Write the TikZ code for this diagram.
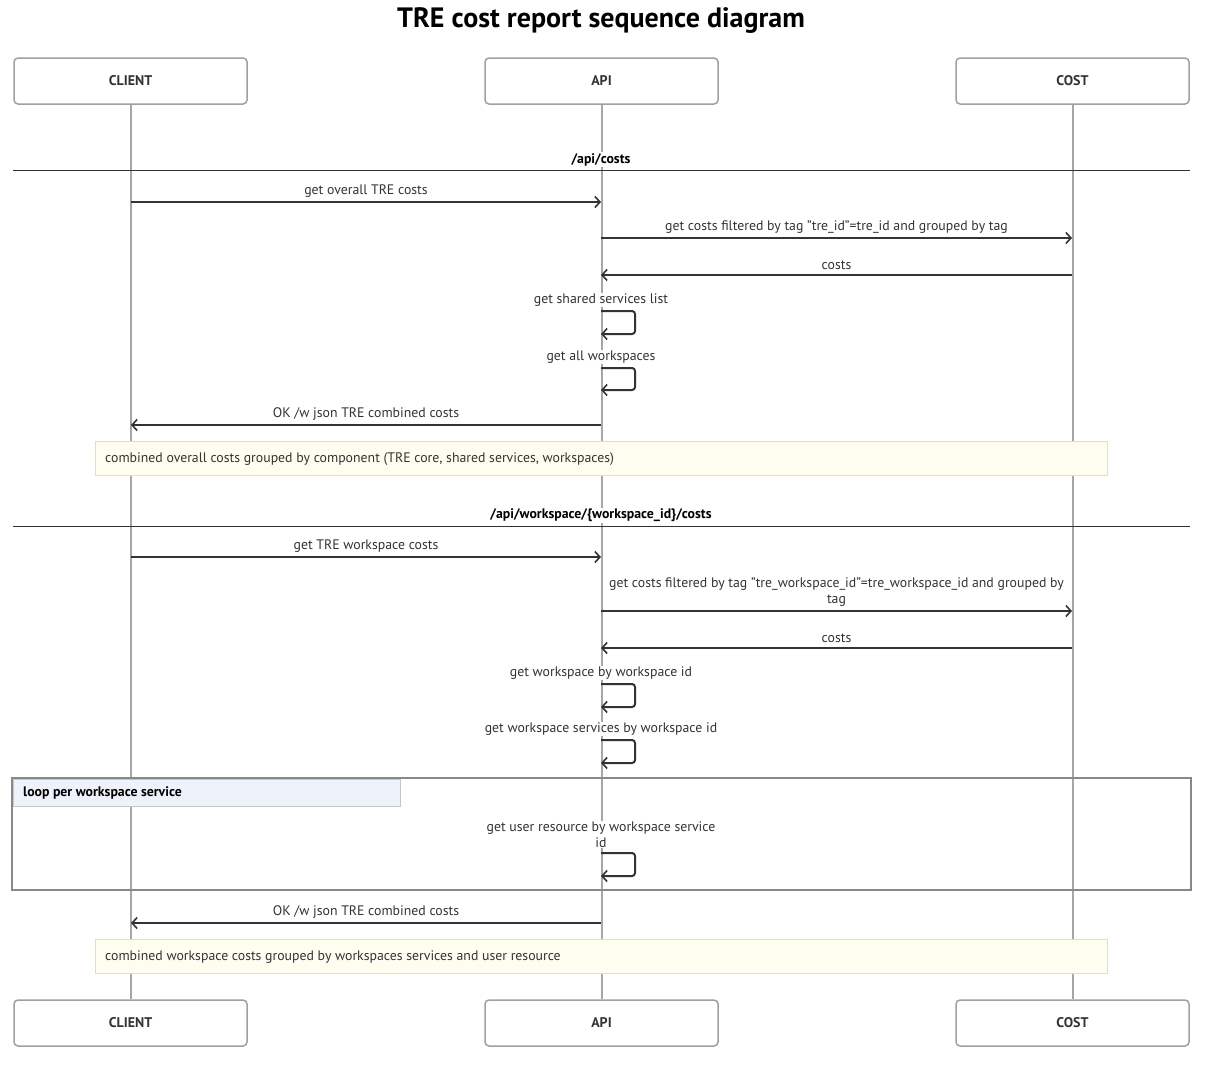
\documentclass[tikz,border=0pt]{standalone}
\usepackage{fontspec}
\setmainfont{PT Sans}
\usetikzlibrary{arrows.meta}
\definecolor{txt}{HTML}{333333}
\definecolor{life}{HTML}{A6A6A6}
\definecolor{boxline}{HTML}{A0A0A0}
\definecolor{notefill}{HTML}{FFFDF0}
\definecolor{noteline}{HTML}{E2DFC8}
\definecolor{loopfill}{HTML}{EEF2FB}
\definecolor{loopline}{HTML}{888888}
\newcommand{\fs}{\fontsize{13.8}{16}\selectfont}
\newcommand{\qq}{\char34\relax}
\tikzset{
  actor/.style={draw=boxline, line width=1.5pt, rounded corners=4pt, minimum width=233pt, minimum height=46pt, fill=white, font=\bfseries\fontsize{14}{16}\selectfont, text=txt, inner sep=0pt},
  lifeline/.style={draw=life, line width=2pt},
  msg/.style={draw=txt, line width=2pt, -{Straight Barb[length=5pt,width=11pt,line width=1.6pt]}},
  selfmsg/.style={msg, rounded corners=3pt},
  lbl/.style={font=\fs, text=txt, inner sep=1pt, align=center},
  selflbl/.style={lbl, fill=white},
  seclbl/.style={font=\bfseries\fs, text=black, fill=white, inner sep=1pt},
  secline/.style={draw=txt, line width=1pt},
  note/.style={draw=noteline, fill=notefill, line width=1pt},
  notetxt/.style={font=\fs, text=txt, anchor=west, inner sep=0pt},
}
\begin{document}
\begin{tikzpicture}[x=1pt,y=-1pt]
\useasboundingbox (0,0) rectangle (1205,1074);
\node[font=\bfseries\fontsize{28}{32}\selectfont] (title) at (601,21) {TRE cost report sequence diagram};
% actors
\node[actor] (cT) at (130.5,81) {CLIENT};
\node[actor] (aT) at (601.5,81) {API};
\node[actor] (kT) at (1072.5,81) {COST};
\node[actor] (cB) at (130.5,1023) {CLIENT};
\node[actor] (aB) at (601.5,1023) {API};
\node[actor] (kB) at (1072.5,1023) {COST};
% lifelines
\draw[lifeline] (cT.south) -- (cB.north);
\draw[lifeline] (aT.south) -- (aB.north);
\draw[lifeline] (kT.south) -- (kB.north);
% section 1
\coordinate (s1l) at (13,170);
\coordinate (s1r) at (1190,170);
\draw[secline] (s1l) -- (s1r);
\node[seclbl] (sec1) at (601,159.5) {/api/costs};
% message coordinates
\coordinate (c1) at (131,202); \coordinate (a1) at (601,202);
\coordinate (a2) at (601,238); \coordinate (k2) at (1072,238);
\coordinate (k3) at (1072,275); \coordinate (a3) at (601,275);
\coordinate (a4s) at (601,311); \coordinate (a4e) at (601,334);
\coordinate (a5s) at (601,368); \coordinate (a5e) at (601,390);
\coordinate (a6) at (601,425); \coordinate (c6) at (131,425);
\draw[msg] (c1) -- node[lbl, above=3pt] (l1) {get overall TRE costs} (a1);
\draw[msg] (a2) -- node[lbl, above=3pt] (l2) {get costs filtered by tag \qq tre\_id\qq=tre\_id and grouped by tag} (k2);
\draw[msg] (k3) -- node[lbl, above=3pt] (l3) {costs} (a3);
\node[selflbl] (l4) at (601,300) {get shared services list};
\draw[selfmsg] (a4s) -- ++(34,0) -- ++(0,23) -- (a4e);
\node[selflbl] (l5) at (601,357) {get all workspaces};
\draw[selfmsg] (a5s) -- ++(34,0) -- ++(0,22) -- (a5e);
\draw[msg] (a6) -- node[lbl, above=3pt] (l6) {OK /w json TRE combined costs} (c6);
% note 1
\draw[note] (95,441) rectangle (1107,475);
\node[notetxt] (n1) at (105,459) {combined overall costs grouped by component (TRE core, shared services, workspaces)};
% section 2
\coordinate (s2l) at (13,526);
\coordinate (s2r) at (1190,526);
\draw[secline] (s2l) -- (s2r);
\node[seclbl] (sec2) at (601,515.5) {/api/workspace/\{workspace\_id\}/costs};
\coordinate (c7) at (131,557); \coordinate (a7) at (601,557);
\coordinate (a8) at (601,611); \coordinate (k8) at (1072,611);
\coordinate (k9) at (1072,648); \coordinate (a9) at (601,648);
\coordinate (a10s) at (601,684); \coordinate (a10e) at (601,707);
\coordinate (a11s) at (601,740); \coordinate (a11e) at (601,763);
\coordinate (a12s) at (601,853); \coordinate (a12e) at (601,876);
\coordinate (a13) at (601,923); \coordinate (c13) at (131,923);
\draw[msg] (c7) -- node[lbl, above=3pt] (l7) {get TRE workspace costs} (a7);
\draw[msg] (a8) -- node[lbl, above=3pt] (l8) {get costs filtered by tag \qq tre\_workspace\_id\qq=tre\_workspace\_id and grouped by\\[-0.5pt]tag} (k8);
\draw[msg] (k9) -- node[lbl, above=3pt] (l9) {costs} (a9);
\node[selflbl] (l10) at (601,673) {get workspace by workspace id};
\draw[selfmsg] (a10s) -- ++(34,0) -- ++(0,23) -- (a10e);
\node[selflbl] (l11) at (601,729) {get workspace services by workspace id};
\draw[selfmsg] (a11s) -- ++(34,0) -- ++(0,23) -- (a11e);
% loop frame
\draw[draw=loopline, line width=2pt] (12,778) rectangle (1191,890);
\draw[fill=loopfill, draw=boxline!60, line width=0.8pt] (13,779) rectangle (400,806);
\node[font=\bfseries\fs, text=black, anchor=west, inner sep=0pt] (looplbl) at (23,793) {loop per workspace service};
\node[selflbl] (l12) at (601,834.5) {get user resource by workspace service\\[-0.5pt]id};
\draw[selfmsg] (a12s) -- ++(34,0) -- ++(0,23) -- (a12e);
\draw[msg] (a13) -- node[lbl, above=3pt] (l13) {OK /w json TRE combined costs} (c13);
% note 2
\draw[note] (95,939) rectangle (1107,973);
\node[notetxt] (n2) at (105,957) {combined workspace costs grouped by workspaces services and user resource};
\end{tikzpicture}
\end{document}
